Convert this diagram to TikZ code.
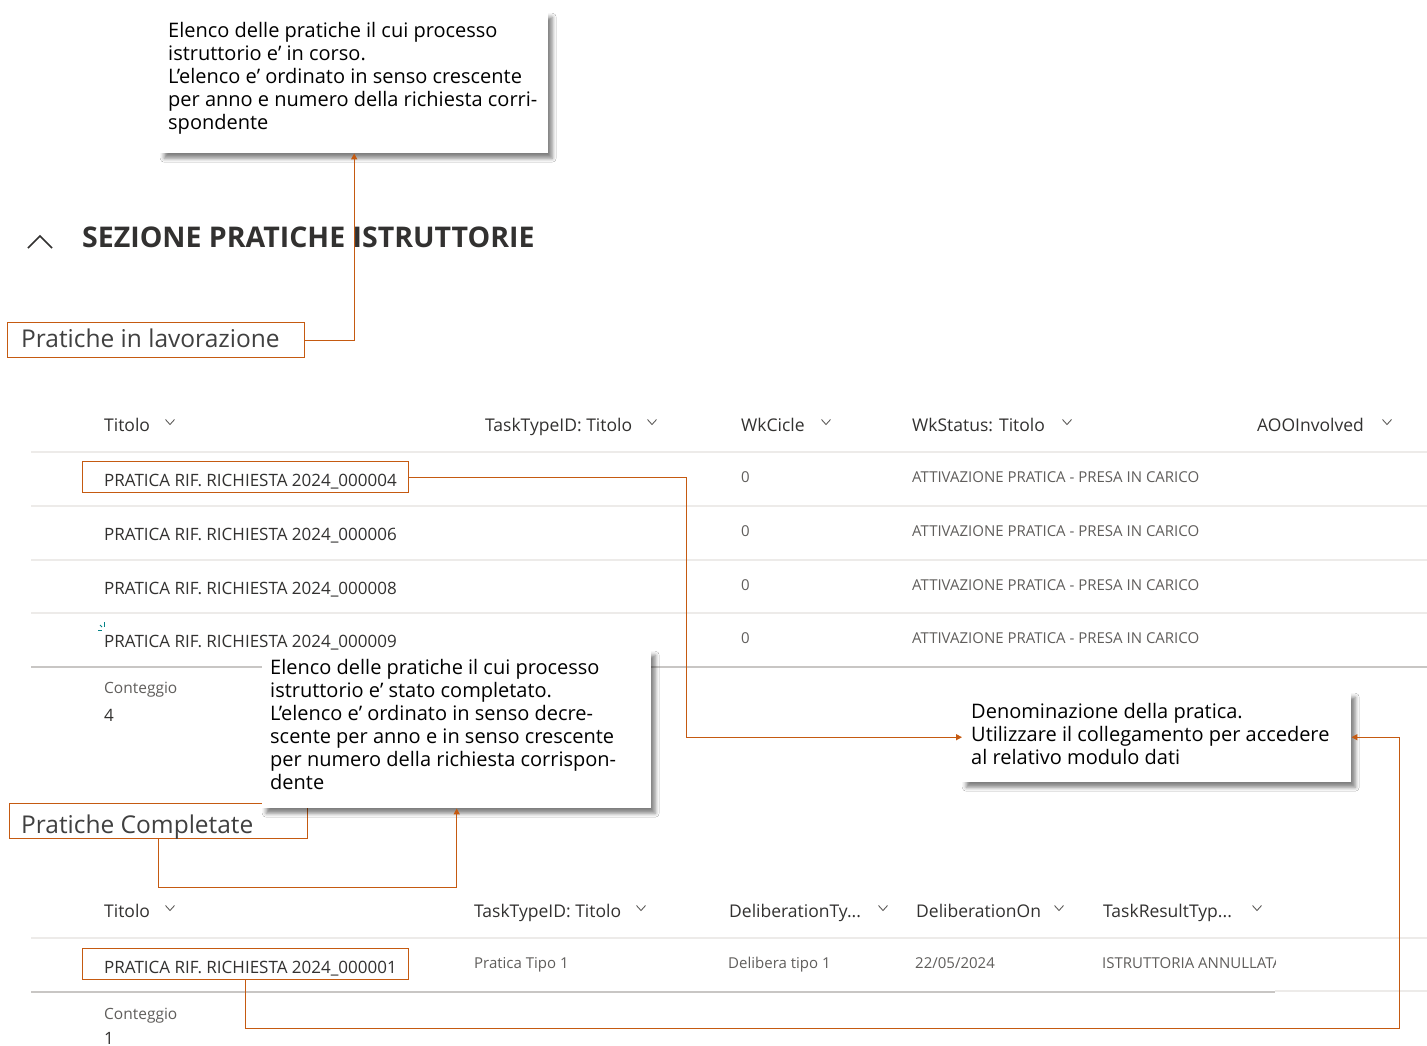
\documentclass[tikz,border=0pt]{standalone}
\usepackage{fontspec}
\setmainfont{Open Sans}
\usetikzlibrary{arrows.meta,shadows.blur,calc}
\definecolor{accent}{HTML}{C55A11}
\definecolor{ink}{HTML}{323130}
\definecolor{soft}{HTML}{605E5C}
\definecolor{labelink}{HTML}{404040}
\definecolor{rulelight}{HTML}{EDEBE9}
\definecolor{ruledark}{HTML}{C8C6C4}
\definecolor{spinner}{HTML}{038387}

\begin{document}
\begin{tikzpicture}[x=1pt,y=-1pt,
  calloutbox/.style={anchor=north west, fill=white, draw=none, inner sep=0pt,
    blur shadow={shadow xshift=4pt, shadow yshift=-5pt, shadow blur radius=4pt, shadow opacity=50}},
  % multi-line callout texts are placed by the baseline of their last line
  callouttext/.style={anchor=base west, align=left, inner sep=0pt, text=black,
    font=\fontsize{20}{23}\selectfont},
  tagbox/.style={anchor=north west, draw=accent, line width=1.4pt, inner sep=0pt, fill=none},
  taglabel/.style={anchor=base west, inner sep=0pt, text=labelink, font=\fontsize{24.5}{28}\selectfont},
  head/.style={anchor=base west, inner sep=0pt, text=ink, font=\fontsize{17.5}{20}\selectfont},
  cell/.style={anchor=base west, inner sep=0pt, text=ink, font=\fontsize{17}{20}\selectfont},
  smallcell/.style={anchor=base west, inner sep=0pt, text=soft, font=\fontsize{15}{18}\selectfont},
  countlabel/.style={anchor=base west, inner sep=0pt, text=soft, font=\fontsize{15.5}{18}\selectfont},
  lightrule/.style={draw=rulelight, line width=1.6pt},
  darkrule/.style={draw=ruledark, line width=2pt},
  conn/.style={draw=accent, line width=1.3pt, -{Triangle[length=6pt,width=6pt]}},
  dropcaret/.pic={\draw[soft, line width=0.9pt] (-4.5,-2.5) -- (0,2.5) -- (4.5,-2.5);}
]
\useasboundingbox (0,0) rectangle (1427,1045);
\fill[white] (0,0) rectangle (1427,1045);

% ---- section heading ----
\draw[ink, line width=1.6pt] (28,248) -- (40,236) -- (52,248);
\node[anchor=base west, inner sep=0pt, text=ink, font=\bfseries\fontsize{28.5}{32}\selectfont]
  (title) at (82,247) {SEZIONE PRATICHE ISTRUTTORIE};

% ---- tag: work in progress ----
\node[tagbox, minimum width=297pt, minimum height=35pt] (lav) at (7,322) {};
\node[taglabel] (lavtxt) at (21,347) {Pratiche in lavorazione};

% ---- first table ----
\foreach \yy in {452,506,560,613} \draw[lightrule] (31,\yy) -- (1427,\yy);
\draw[darkrule] (31,667) -- (1427,667);

\node[head] (h1) at (104,431) {Titolo};
\node[head] (h2) at (485,431) {TaskTypeID: Titolo};
\node[head] (h3) at (741,431) {WkCicle};
\node[head] (h4) at (912,431) {WkStatus: Titolo};
\node[head] (h5) at (1257,431) {AOOInvolved};
\foreach \xx in {170,652,826,1067,1387} \pic at (\xx,422) {dropcaret};

\foreach \num/\yb [count=\i] in {000004/486,000006/540,000008/594,000009/647} {
  \node[cell] (t\i) at (104,\yb) {PRATICA RIF. RICHIESTA 2024\_\num};
  \node[smallcell] (w\i) at (741,\yb-4) {0};
  \node[smallcell] (s\i) at (912,\yb-4) {ATTIVAZIONE PRATICA - PRESA IN CARICO};
}
\node[tagbox, minimum width=326pt, minimum height=31pt] (r1box) at (82,461) {};

% loading marks beside the last row
\draw[spinner, line width=1pt] (98,630) -- (102,630);
\draw[spinner, line width=1pt] (104,622) -- (104,627);
\draw[spinner, line width=1pt] (100,625) -- (102,627);

\node[countlabel] (cnt1) at (104,693) {Conteggio};
\node[cell] (cnt1v) at (104,721) {4};

% ---- tag: completed ----
\node[tagbox, minimum width=298pt, minimum height=35pt] (comp) at (9,803) {};
\node[taglabel] (comptxt) at (21,833) {Pratiche Completate};

% ---- second table ----
\draw[lightrule] (31,938) -- (1427,938);
\draw[darkrule] (31,992) -- (1275,992);
\draw[lightrule] (1275,991) -- (1427,991);

\node[head] (k1) at (104,917) {Titolo};
\node[head] (k2) at (474,917) {TaskTypeID: Titolo};
\node[head] (k3) at (729,917) {DeliberationTy...};
\node[head] (k4) at (916,917) {DeliberationOn};
\node[head] (k5) at (1103,917) {TaskResultTyp...};
\foreach \xx in {170,641,883,1059,1257} \pic at (\xx,908) {dropcaret};

\node[cell] (u1) at (104,973) {PRATICA RIF. RICHIESTA 2024\_000001};
\node[smallcell] (u2) at (474,968) {Pratica Tipo 1};
\node[smallcell] (u3) at (728,968) {Delibera tipo 1};
\node[smallcell] (u4) at (915,968) {22/05/2024};
\begin{scope}
  \clip (1095,945) rectangle (1275,985);
  \node[smallcell] (u5) at (1102,968) {ISTRUTTORIA ANNULLATA};
\end{scope}
\node[tagbox, minimum width=326pt, minimum height=31pt] (r5box) at (82,948) {};

\node[countlabel] (cnt2) at (104,1019) {Conteggio};
\node[cell] (cnt2v) at (104,1044) {1};

% ---- callouts ----
\node[calloutbox, minimum width=388pt, minimum height=141pt] (c1) at (160,12) {};
\node[callouttext] (c1txt) at (168,129) {Elenco delle pratiche il cui processo\\
istruttorio e’ in corso.\\
L’elenco e’ ordinato in senso crescente\\
per anno e numero della richiesta corri-\\
spondente};

\node[calloutbox, minimum width=389pt, minimum height=158pt] (c2) at (262,650) {};
\node[callouttext] (c2txt) at (270,789) {Elenco delle pratiche il cui processo\\
istruttorio e’ stato completato.\\
L’elenco e’ ordinato in senso decre-\\
scente per anno e in senso crescente\\
per numero della richiesta corrispon-\\
dente};

\node[calloutbox, minimum width=389pt, minimum height=90pt] (c3) at (962,692) {};
\node[callouttext] (c3txt) at (971,764) {Denominazione della pratica.\\
Utilizzare il collegamento per accedere\\
al relativo modulo dati};

% ---- connectors ----
\draw[conn] (lav.east) -| (c1.south);
\draw[conn] (r1box.east) -- ++(277,0) |- (c3.west);
\draw[conn] (r5box.south) -- ++(0,48) -| ($(c3.east)+(48,0)$) -- (c3.east);
\draw[conn] (comp.south) -- ++(0,48) -| (c2.south);
\end{tikzpicture}
\end{document}
